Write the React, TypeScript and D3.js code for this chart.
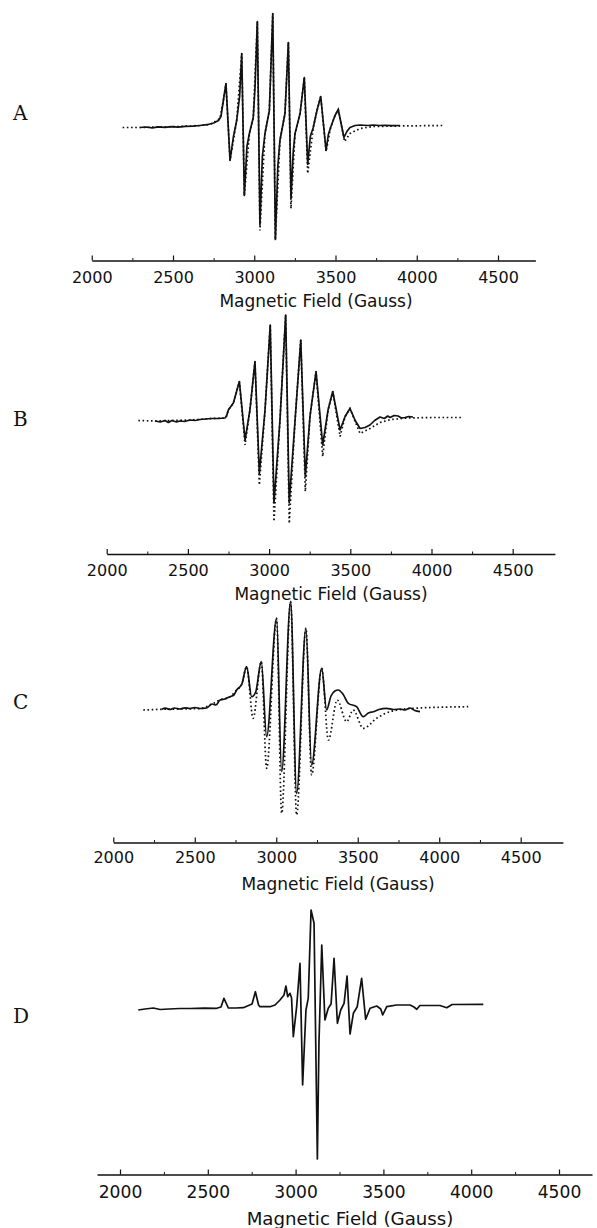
import * as d3 from 'd3';
import { useEffect, useRef } from 'react';

type Pt = [number, number];

const panelLetters = ['A', 'B', 'C', 'D'];
const tickValues = [2000, 2500, 3000, 3500, 4000, 4500];
const minorTicks = [2250, 2750, 3250, 3750, 4250];
const xAxisTitle = 'Magnetic Field (Gauss)';

// field (G), intensity (a.u.); exp = solid, sim = dotted
const expA: Pt[] = [
    [2297, -1], [2335, -0.5], [2372, -1.3], [2410, -0.4], [2450, -0.9], [2490, -0.2],
    [2530, -0.6], [2575, 0.2], [2620, 0.4], [2666, 1], [2710, 1.8], [2750, 3.5],
    [2780, 6], [2795, 10], [2810, 26], [2826, 43], [2851, -34], [2872, -10], [2892, 6],
    [2910, 30], [2923, 73], [2939, -69], [2955, -20], [2970, -7], [2994, 9], [3005, 40],
    [3019, 105], [3035, -98], [3050, -30], [3066, -7], [3093, 16], [3114, 113], [3130, -113],
    [3145, -40], [3158, -14], [3189, 13], [3210, 84], [3226, -72], [3240, -25], [3251, -7],
    [3282, 13], [3308, 49], [3329, -38], [3345, -10], [3363, -1], [3386, 16], [3409, 30],
    [3442, -24], [3456, -8], [3470, -1], [3497, 11], [3517, 17], [3552, -11], [3570, -5],
    [3589, -1], [3620, 1], [3651, 1.5], [3700, 1], [3731, 1.5], [3770, 1], [3805, 1.2],
    [3850, 0.8], [3897, 1],
];
const simA: Pt[] = [
    [2190, -1], [2300, -1], [2420, -0.5], [2543, 0], [2666, 1], [2728, 2], [2789, 8],
    [2810, 26], [2826, 43], [2851, -34], [2892, 6], [2923, 73], [2939, -69], [2970, -7],
    [2994, 9], [3019, 105], [3035, -104], [3066, -7], [3093, 16], [3114, 113], [3130, -113],
    [3158, -14], [3189, 13], [3210, 84], [3226, -82], [3251, -7], [3282, 13], [3308, 49],
    [3329, -47], [3363, -1], [3386, 16], [3409, 30], [3442, -25], [3470, -1], [3497, 11],
    [3517, 17], [3556, -15], [3589, -7], [3651, -2], [3731, 0], [3900, 0.5], [4160, 1],
];
const expB: Pt[] = [
    [2297, -2.5], [2330, -3.5], [2359, -2], [2380, -4], [2402, -2], [2430, -3.5], [2451, -2.5],
    [2480, -3], [2513, -1.5], [2545, -2], [2575, -1], [2610, -0.5], [2648, 0], [2690, 0],
    [2728, 0.5], [2738, 2.5], [2749, 8.5], [2780, 15.5], [2817, 37], [2852, -21.5], [2882, 8.5],
    [2913, 57], [2940, -55], [2975, 8.5], [3007, 93.5], [3030, -84.5], [3067, -1.5],
    [3102, 103.5], [3124, -84.5], [3160, -1.5], [3195, 78.5], [3223, -58], [3252, 2.5],
    [3289, 47], [3330, -26.5], [3363, 8.5], [3392, 27], [3437, -11.5], [3468, 2], [3498, 10],
    [3530, -2], [3560, -10], [3590, -9], [3621, -6.5], [3650, -2], [3683, 1.5], [3710, 0],
    [3730, 2.5], [3745, 1], [3770, 3], [3794, 2.5], [3815, 0.5], [3837, 1], [3860, 2], [3886, 1.5],
];
const simB: Pt[] = [
    [2195, -2], [2297, -2.5], [2400, -2], [2513, -1.5], [2648, 0], [2728, 0.5], [2738, 2.5],
    [2749, 8.5], [2780, 15.5], [2817, 37], [2852, -26.5], [2882, 8.5], [2913, 57], [2940, -66.5],
    [2975, 8.5], [3007, 93.5], [3030, -103], [3067, -1.5], [3102, 103.5], [3124, -105],
    [3160, -1.5], [3195, 78.5], [3223, -73], [3252, 2.5], [3289, 47], [3330, -38], [3363, 8.5],
    [3392, 27], [3437, -18], [3468, 2], [3498, 10], [3560, -15], [3621, -10], [3683, -4],
    [3750, -1], [3850, 0.5], [4000, 1], [4186, 1],
];
const expC: Pt[] = [
    [2297, -0.3], [2320, 0.8], [2348, -0.5], [2375, 1], [2409, 0], [2440, 1.2], [2471, 0.5],
    [2500, 1.5], [2532, 0.5], [2573, 1], [2606, 5], [2630, 4], [2655, 9], [2685, 10],
    [2716, 12.3], [2740, 14], [2757, 19], [2789, 25], [2818, 42.3], [2849, 12.3], [2874, 17],
    [2908, 47.3], [2941, -27.7], [3002, 90.7], [3033, -62.7], [3088, 107.3], [3125, -84.3],
    [3182, 80.7], [3217, -56], [3279, 40.7], [3309, -1], [3336, 13], [3360, 18], [3380, 19],
    [3409, 15], [3442, 5.7], [3493, 2.3], [3534, -7.7], [3565, -4], [3595, -2.7], [3630, -0.5],
    [3677, 0.7], [3720, -0.5], [3759, 0], [3790, -1], [3820, 1], [3850, -1.5], [3882, -2.7],
];
const simC: Pt[] = [
    [2184, -1], [2297, -0.3], [2409, 0], [2532, 0.5], [2606, 5], [2655, 9], [2716, 12.3],
    [2757, 19], [2789, 25], [2818, 42.3], [2858, -9.3], [2908, 47.3], [2941, -59.3],
    [3002, 90.7], [3033, -104.3], [3088, 107.3], [3125, -106], [3182, 80.7], [3217, -66],
    [3279, 40.7], [3320, -31], [3374, 9], [3432, -12.7], [3472, -1], [3534, -19.3],
    [3616, -9.3], [3698, -2.7], [3840, 0.7], [4178, 2.3],
];
const expD: Pt[] = [
    [2104, -3], [2142, -2], [2190, -1], [2228, -2.5], [2280, -2], [2342, -1.5], [2400, -1.5],
    [2480, -1.2], [2551, -1.3], [2575, 0], [2592, 8.7], [2617, -1], [2660, -1], [2702, -0.7],
    [2752, 3], [2771, 15.3], [2789, 2], [2797, 0.3], [2854, 0.3], [2883, 2], [2911, 7],
    [2934, 12], [2945, 21], [2955, 10.3], [2968, 13.7], [2977, 9], [2987, -29.7], [3006, 0.3],
    [3025, 43.7], [3040, -78], [3059, -3], [3072, 8.7], [3088, 97], [3105, 83.7], [3124, -152],
    [3133, -36], [3149, 62], [3167, -13], [3186, -1.3], [3202, 3], [3219, 48.7], [3238, -16.3],
    [3257, -3], [3276, 3.7], [3293, 31], [3310, -27], [3329, -6.3], [3351, 0.3], [3376, 28.7],
    [3399, -12.3], [3424, -1.3], [3462, 1], [3485, -2], [3496, -8], [3519, 0.3], [3576, 2],
    [3652, 2], [3674, 0], [3690, -2.3], [3708, 1.5], [3822, 1.5], [3861, -0.7], [3891, 2.5],
    [4069, 2.7],
];

const spectra = [
    { exp: expA, sim: simA },
    { exp: expB, sim: simB },
    { exp: expC, sim: simC },
    { exp: expD, sim: null },
];

// where each panel sits on the page (px)
const layout = [
    { x0: 91.75, x1: 498, base: 126.5, axisY: 260.5, from: 2000, to: 4730, tickY: 283, titleX: 316, titleY: 307, letterY: 120, fs: 1 },
    { x0: 106.7, x1: 512.7, base: 418.5, axisY: 554, from: 2000, to: 4760, tickY: 576, titleX: 331, titleY: 600, letterY: 426, fs: 1 },
    { x0: 113.3, x1: 520.7, base: 709, axisY: 842.5, from: 2000, to: 4759, tickY: 863, titleX: 338, titleY: 890, letterY: 709, fs: 1 },
    { x0: 120, x1: 559, base: 1007, axisY: 1174.5, from: 1869, to: 4688, tickY: 1198, titleX: 350, titleY: 1225, letterY: 1023, fs: 1.07 },
];

const W = 597;
const H = 1228;

const EprFigure = () => {
    const svgRef = useRef<SVGSVGElement>(null);

    useEffect(() => {
        const svg = d3.select(svgRef.current);
        svg.selectAll('*').remove();
        svg.attr('width', W).attr('height', H);

        svg.append('rect').attr('width', W).attr('height', H).attr('fill', '#fff');

        layout.forEach((L, i) => {
            const g = svg.append('g');
            const x = d3.scaleLinear().domain([2000, 4500]).range([L.x0, L.x1]);
            const y = d3.scaleLinear().domain([0, 100]).range([L.base, L.base - 100]);
            const line = d3
                .line<Pt>()
                .x((d) => x(d[0]))
                .y((d) => y(d[1]))
                .curve(i === 2 ? d3.curveMonotoneX : d3.curveLinear);

            const { exp, sim } = spectra[i];
            if (sim) {
                g.append('path')
                    .attr('d', line(sim))
                    .attr('fill', 'none')
                    .attr('stroke', '#111')
                    .attr('stroke-width', 1.7)
                    .attr('stroke-dasharray', '1.6,2.6');
            }
            g.append('path')
                .attr('d', line(exp))
                .attr('fill', 'none')
                .attr('stroke', '#111')
                .attr('stroke-width', 1.7)
                .attr('stroke-linejoin', 'round');

            // axis: line spans a bit past 4500, ticks point up
            const xa = x.copy().domain([L.from, L.to]).range([x(L.from), x(L.to)]);
            const fontSize = 16 * L.fs;
            const axis = d3
                .axisBottom(xa)
                .tickValues(tickValues)
                .tickSize(-5)
                .tickSizeOuter(0)
                .tickPadding(L.tickY - L.axisY - 0.71 * fontSize)
                .tickFormat(d3.format('d'));
            const ag = g
                .append('g')
                .attr('transform', `translate(0, ${L.axisY})`)
                .call(axis);
            ag.select('.domain').attr('stroke', '#111').attr('stroke-width', 1.6);
            ag.selectAll('.tick line').attr('stroke', '#111').attr('stroke-width', 1.2);
            ag.selectAll('.tick text')
                .attr('fill', '#111')
                .style('font-family', '"DejaVu Sans", sans-serif')
                .style('font-size', `${fontSize}px`);

            const minor = d3.axisBottom(xa).tickValues(minorTicks).tickSize(-2.5).tickFormat(() => '');
            const mg = g
                .append('g')
                .attr('transform', `translate(0, ${L.axisY})`)
                .call(minor);
            mg.select('.domain').remove();
            mg.selectAll('.tick line').attr('stroke', '#111').attr('stroke-width', 1);

            g.append('text')
                .attr('x', L.titleX)
                .attr('y', L.titleY)
                .attr('text-anchor', 'middle')
                .attr('fill', '#111')
                .style('font-family', '"DejaVu Sans", sans-serif')
                .style('font-size', `${17 * L.fs}px`)
                .text(xAxisTitle);

            g.append('text')
                .attr('x', 13)
                .attr('y', L.letterY)
                .attr('fill', '#111')
                .style('font-family', '"DejaVu Serif", serif')
                .style('font-size', '20px')
                .text(panelLetters[i]);
        });
    }, []);

    return <svg ref={svgRef} style={{ position: 'absolute', left: 0, top: 0 }}></svg>;
};

export default function App() {
    return <EprFigure />;
}
